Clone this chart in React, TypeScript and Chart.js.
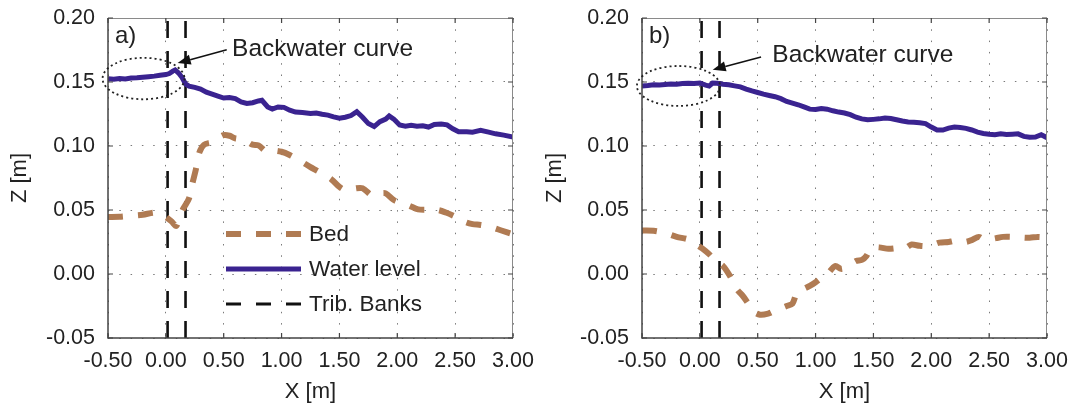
import React, { useEffect, useRef } from "react";
import { Chart, registerables } from "chart.js";

Chart.register(...registerables);

// ---------- data ----------
const X_TICK_MIN = -0.5;
const X_TICK_MAX = 3.0;
const X_TICK_STEP = 0.5;
const Z_TICK_MIN = -0.05;
const Z_TICK_MAX = 0.2;
const Z_TICK_STEP = 0.05;

const tribBanks = [0.015, 0.17];

// Panel a) water level
const xWaterA = [-0.5, -0.45, -0.4, -0.35, -0.3, -0.25, -0.2, -0.15, -0.1, -0.05, 0.0, 0.03, 0.06, 0.08, 0.11, 0.14, 0.17, 0.2, 0.25, 0.3, 0.35, 0.4, 0.45, 0.5, 0.55, 0.6, 0.65, 0.7, 0.75, 0.8, 0.83, 0.88, 0.92, 0.97, 1.02, 1.07, 1.12, 1.18, 1.25, 1.3, 1.35, 1.4, 1.45, 1.5, 1.55, 1.6, 1.65, 1.7, 1.75, 1.8, 1.85, 1.9, 1.93, 1.97, 2.02, 2.07, 2.12, 2.17, 2.22, 2.27, 2.32, 2.38, 2.43, 2.48, 2.53, 2.6, 2.65, 2.72, 2.78, 2.85, 2.92, 3.0];
const zWaterA = [0.1525, 0.1521, 0.1527, 0.1524, 0.1531, 0.1533, 0.1537, 0.1541, 0.1546, 0.1553, 0.1558, 0.1566, 0.1585, 0.1594, 0.157, 0.1535, 0.1485, 0.1468, 0.1458, 0.1445, 0.142, 0.1405, 0.139, 0.1375, 0.1378, 0.137, 0.1345, 0.1332, 0.1338, 0.1352, 0.1357, 0.1305, 0.1288, 0.1305, 0.1302, 0.128, 0.1265, 0.1262, 0.1254, 0.1258, 0.1248, 0.1241, 0.1228, 0.1218, 0.1225, 0.1238, 0.1268, 0.1225, 0.1175, 0.1152, 0.119, 0.121, 0.1235, 0.121, 0.1164, 0.1155, 0.1162, 0.1155, 0.1158, 0.1148, 0.1168, 0.1172, 0.1165, 0.1135, 0.1112, 0.1112, 0.1108, 0.1122, 0.111, 0.1095, 0.1085, 0.107];

// Panel a) bed
const xBedA = [-0.5, -0.4, -0.3, -0.2, -0.1, -0.05, 0.0, 0.05, 0.09, 0.12, 0.15, 0.2, 0.23, 0.26, 0.29, 0.33, 0.4, 0.45, 0.5, 0.55, 0.6, 0.65, 0.7, 0.75, 0.8, 0.87, 0.92, 1.0, 1.07, 1.15, 1.25, 1.3, 1.35, 1.43, 1.5, 1.55, 1.63, 1.7, 1.78, 1.85, 1.9, 1.97, 2.05, 2.1, 2.18, 2.25, 2.35, 2.42, 2.5, 2.59, 2.65, 2.72, 2.8, 2.9, 3.0];
const zBedA = [0.0445, 0.0447, 0.0455, 0.0463, 0.048, 0.047, 0.0445, 0.041, 0.0375, 0.045, 0.051, 0.059, 0.071, 0.082, 0.095, 0.101, 0.103, 0.106, 0.1085, 0.108, 0.106, 0.1055, 0.1035, 0.101, 0.1005, 0.0956, 0.0965, 0.0955, 0.093, 0.089, 0.0835, 0.081, 0.0785, 0.074, 0.068, 0.0656, 0.0668, 0.067, 0.0615, 0.063, 0.063, 0.0578, 0.055, 0.0535, 0.0505, 0.0502, 0.05, 0.048, 0.0448, 0.0405, 0.039, 0.0383, 0.037, 0.034, 0.031];

// Panel b) water level
const xWaterB = [-0.5, -0.45, -0.4, -0.35, -0.3, -0.25, -0.2, -0.15, -0.1, -0.05, 0.0, 0.05, 0.08, 0.11, 0.15, 0.2, 0.25, 0.3, 0.35, 0.4, 0.45, 0.5, 0.55, 0.6, 0.65, 0.7, 0.75, 0.8, 0.85, 0.9, 0.95, 1.0, 1.05, 1.1, 1.15, 1.2, 1.25, 1.3, 1.35, 1.4, 1.45, 1.5, 1.55, 1.6, 1.65, 1.7, 1.75, 1.8, 1.85, 1.9, 1.95, 2.0, 2.05, 2.1, 2.15, 2.2, 2.25, 2.3, 2.35, 2.4, 2.45, 2.5, 2.55, 2.6, 2.65, 2.7, 2.75, 2.8, 2.85, 2.9, 2.95, 3.0];
const zWaterB = [0.1468, 0.1472, 0.1478, 0.1476, 0.148, 0.1484, 0.1482, 0.1488, 0.149, 0.1489, 0.1492, 0.1475, 0.1468, 0.1492, 0.149, 0.1482, 0.1478, 0.147, 0.1462, 0.1445, 0.143, 0.1418, 0.1405, 0.1395, 0.1385, 0.137, 0.1348, 0.1335, 0.1322, 0.1305, 0.1288, 0.1285, 0.1292, 0.1288, 0.1275, 0.1265, 0.1258, 0.1245, 0.1225, 0.1212, 0.1205, 0.1208, 0.1212, 0.1218, 0.1215, 0.1205, 0.1195, 0.1188, 0.1186, 0.1182, 0.1175, 0.1148, 0.1125, 0.1125, 0.114, 0.1148, 0.1145, 0.1138, 0.1125, 0.1108, 0.1098, 0.1092, 0.1088, 0.1095, 0.109, 0.1092, 0.1095, 0.1075, 0.1068, 0.107, 0.1088, 0.1065];

// Panel b) bed
const xBedB = [-0.5, -0.4, -0.3, -0.2, -0.1, -0.03, 0.02, 0.08, 0.14, 0.2, 0.26, 0.32, 0.37, 0.41, 0.46, 0.52, 0.59, 0.64, 0.69, 0.75, 0.8, 0.84, 0.9, 0.95, 1.0, 1.05, 1.1, 1.17, 1.22, 1.27, 1.35, 1.4, 1.44, 1.48, 1.55, 1.63, 1.7, 1.78, 1.83, 1.9, 1.96, 2.02, 2.07, 2.15, 2.2, 2.29, 2.35, 2.41, 2.46, 2.5, 2.56, 2.62, 2.7, 2.78, 2.85, 2.92, 3.0];
const zBedB = [0.034, 0.0338, 0.032, 0.029, 0.027, 0.023, 0.02, 0.0155, 0.01, 0.0063, -0.0015, -0.012, -0.017, -0.022, -0.029, -0.0318, -0.031, -0.029, -0.0272, -0.025, -0.0232, -0.0145, -0.0115, -0.0093, -0.0065, -0.003, -0.0002, 0.0063, 0.004, 0.0055, 0.0102, 0.011, 0.0142, 0.0205, 0.0208, 0.0197, 0.0202, 0.0205, 0.023, 0.022, 0.0218, 0.023, 0.0245, 0.025, 0.0258, 0.025, 0.0265, 0.029, 0.0265, 0.027, 0.028, 0.029, 0.029, 0.0285, 0.0283, 0.029, 0.0285];

const legendLabels = ["Bed", "Water level", "Trib. Banks"];
const annotationText = "Backwater curve";

// ---------- styles ----------
const FONT = "'Liberation Sans', Arial, Helvetica, sans-serif";
const BED_COLOR = "#B07B53";
const WATER_COLOR = "#3A2390";
const TEXT_COLOR = "#222222";

type Panel = {
  label: string;
  xWater: number[];
  zWater: number[];
  xBed: number[];
  zBed: number[];
  ellipse: { cx: number; cy: number; rx: number; ry: number };
  arrowFrom: { x: number; y: number };
  arrowTo: { x: number; y: number };
  textAt: { x: number; y: number };
  showLegend: boolean;
  left: number;
  width: number;
  axisWidth: number;
  padRight: number;
};

const panels: Panel[] = [
  {
    label: "a)",
    xWater: xWaterA,
    zWater: zWaterA,
    xBed: xBedA,
    zBed: zBedA,
    ellipse: { cx: -0.193, cy: 0.1527, rx: 0.354, ry: 0.0162 },
    arrowFrom: { x: 0.526, y: 0.1752 },
    arrowTo: { x: 0.102, y: 0.1648 },
    textAt: { x: 0.572, y: 0.1759 },
    showLegend: true,
    left: 0,
    width: 535,
    axisWidth: 108,
    padRight: 22,
  },
  {
    label: "b)",
    xWater: xWaterB,
    zWater: zWaterB,
    xBed: xBedB,
    zBed: zBedB,
    ellipse: { cx: -0.185, cy: 0.1469, rx: 0.359, ry: 0.0156 },
    arrowFrom: { x: 0.529, y: 0.1695 },
    arrowTo: { x: 0.111, y: 0.1596 },
    textAt: { x: 0.626, y: 0.1707 },
    showLegend: false,
    left: 535,
    width: 536,
    axisWidth: 107,
    padRight: 24,
  },
];

const zip = (xs: number[], ys: number[]) => xs.map((x, i) => ({ x, y: ys[i] }));

function overlayPlugin(p: Panel) {
  return {
    id: "overlay" + p.label,
    afterDatasetsDraw(chart: any) {
      const { ctx, chartArea: ca } = chart;
      const xs = chart.scales.x;
      const ys = chart.scales.y;
      const px = (v: number) => xs.getPixelForValue(v);
      const py = (v: number) => ys.getPixelForValue(v);
      ctx.save();

      // frame
      ctx.setLineDash([]);
      ctx.lineWidth = 1;
      ctx.strokeStyle = "#8a8a8a";
      ctx.beginPath();
      ctx.moveTo(ca.left, ca.top + 0.5);
      ctx.lineTo(ca.right - 0.5, ca.top + 0.5);
      ctx.lineTo(ca.right - 0.5, ca.bottom);
      ctx.stroke();
      ctx.lineWidth = 1.5;
      ctx.strokeStyle = "#444";
      ctx.beginPath();
      ctx.moveTo(ca.left, ca.top);
      ctx.lineTo(ca.left, ca.bottom);
      ctx.lineTo(ca.right, ca.bottom);
      ctx.stroke();

      // inward ticks
      ctx.lineWidth = 1.2;
      ctx.strokeStyle = "#444";
      ctx.beginPath();
      for (const t of xs.ticks) {
        const x = px(t.value);
        ctx.moveTo(x, ca.bottom);
        ctx.lineTo(x, ca.bottom - 5);
        ctx.moveTo(x, ca.top);
        ctx.lineTo(x, ca.top + 5);
      }
      for (const t of ys.ticks) {
        const y = py(t.value);
        ctx.moveTo(ca.left, y);
        ctx.lineTo(ca.left + 5, y);
        ctx.moveTo(ca.right, y);
        ctx.lineTo(ca.right - 5, y);
      }
      ctx.stroke();

      // ellipse
      const e = p.ellipse;
      const ecx = px(e.cx);
      const ecy = py(e.cy);
      ctx.beginPath();
      ctx.setLineDash([2, 3]);
      ctx.lineWidth = 1.8;
      ctx.strokeStyle = "#222";
      ctx.ellipse(ecx, ecy, Math.abs(px(e.cx + e.rx) - ecx), Math.abs(py(e.cy + e.ry) - ecy), 0, 0, Math.PI * 2);
      ctx.stroke();
      ctx.setLineDash([]);

      // arrow
      const ax0 = px(p.arrowFrom.x), ay0 = py(p.arrowFrom.y);
      const ax1 = px(p.arrowTo.x), ay1 = py(p.arrowTo.y);
      const ang = Math.atan2(ay1 - ay0, ax1 - ax0);
      const hl = 13, hw = 5;
      const bx = ax1 - hl * Math.cos(ang), by = ay1 - hl * Math.sin(ang);
      ctx.lineWidth = 1.6;
      ctx.strokeStyle = "#111";
      ctx.beginPath();
      ctx.moveTo(ax0, ay0);
      ctx.lineTo(bx, by);
      ctx.stroke();
      ctx.fillStyle = "#111";
      ctx.beginPath();
      ctx.moveTo(ax1, ay1);
      ctx.lineTo(bx + hw * Math.sin(ang), by - hw * Math.cos(ang));
      ctx.lineTo(bx - hw * Math.sin(ang), by + hw * Math.cos(ang));
      ctx.closePath();
      ctx.fill();

      // annotation text
      ctx.fillStyle = TEXT_COLOR;
      ctx.font = `24.5px ${FONT}`;
      ctx.textAlign = "left";
      ctx.textBaseline = "middle";
      ctx.fillText(annotationText, px(p.textAt.x), py(p.textAt.y));

      // panel label
      ctx.font = `24px ${FONT}`;
      ctx.fillText(p.label, ca.left + 7, ca.top + 18);

      // legend
      if (p.showLegend) {
        const lx0 = ca.left + 118;
        const lx1 = ca.left + 193;
        const tx = ca.left + 201;
        const rows = [ca.top + 216, ca.top + 251, ca.top + 286];
        const styles = [
          { color: BED_COLOR, width: 6, dash: [15, 15] },
          { color: WATER_COLOR, width: 5, dash: [] as number[] },
          { color: "#111", width: 3, dash: [15, 15] },
        ];
        ctx.font = `22.5px ${FONT}`;
        rows.forEach((ry, i) => {
          const s = styles[i];
          ctx.beginPath();
          ctx.setLineDash(s.dash);
          ctx.lineWidth = s.width;
          ctx.strokeStyle = s.color;
          ctx.lineCap = "butt";
          ctx.moveTo(lx0, ry);
          ctx.lineTo(lx1, ry);
          ctx.stroke();
          ctx.setLineDash([]);
          ctx.fillStyle = TEXT_COLOR;
          ctx.fillText(legendLabels[i], tx, ry + 1);
        });
      }
      ctx.restore();
    },
  };
}

function makeConfig(p: Panel): any {
  const tribDatasets = tribBanks.map((xb) => ({
    label: "Trib. Banks",
    data: [
      { x: xb, y: Z_TICK_MIN },
      { x: xb, y: Z_TICK_MAX },
    ],
    borderColor: "#111",
    borderWidth: 2.6,
    borderDash: [17, 13],
    pointRadius: 0,
    order: 3,
  }));
  return {
    type: "line",
    data: {
      datasets: [
        {
          label: "Water level",
          data: zip(p.xWater, p.zWater),
          borderColor: WATER_COLOR,
          borderWidth: 5,
          pointRadius: 0,
          tension: 0,
          order: 1,
        },
        {
          label: "Bed",
          data: zip(p.xBed, p.zBed),
          borderColor: BED_COLOR,
          borderWidth: 6,
          borderDash: [15, 15],
          pointRadius: 0,
          tension: 0.3,
          order: 2,
        },
        ...tribDatasets,
      ],
    },
    options: {
      animation: false,
      responsive: false,
      maintainAspectRatio: false,
      layout: { padding: { left: 0, top: 18, right: p.padRight, bottom: 0 } },
      plugins: { legend: { display: false }, tooltip: { enabled: false } },
      scales: {
        x: {
          type: "linear",
          min: X_TICK_MIN,
          max: X_TICK_MAX,
          ticks: {
            stepSize: X_TICK_STEP,
            padding: 10,
            color: TEXT_COLOR,
            font: { family: FONT, size: 21.5 },
            maxRotation: 0,
            autoSkip: false,
            callback: (v: number) => Number(v).toFixed(2),
          },
          grid: { color: "#7a7a7a", lineWidth: 1, drawTicks: false },
          border: { display: false, dash: [1.5, 9.8] },
          title: {
            display: true,
            text: "X [m]",
            color: TEXT_COLOR,
            font: { family: FONT, size: 22 },
            padding: { top: 0, bottom: 0 },
          },
          afterFit: (s: any) => {
            s.height = 67;
            s.paddingLeft = 0;
            s.paddingRight = 0;
          },
        },
        y: {
          type: "linear",
          min: Z_TICK_MIN,
          max: Z_TICK_MAX,
          ticks: {
            stepSize: Z_TICK_STEP,
            padding: 13,
            color: TEXT_COLOR,
            font: { family: FONT, size: 21.5 },
            autoSkip: false,
            callback: (v: number) => Number(v).toFixed(2),
          },
          grid: { color: "#7a7a7a", lineWidth: 1, drawTicks: false },
          border: { display: false, dash: [1.5, 9.8] },
          title: {
            display: true,
            text: "Z [m]",
            color: TEXT_COLOR,
            font: { family: FONT, size: 22 },
            padding: { top: 7, bottom: 0 },
          },
          afterFit: (s: any) => {
            s.width = p.axisWidth;
            s.paddingTop = 0;
            s.paddingBottom = 0;
          },
        },
      },
    },
    plugins: [overlayPlugin(p)],
  };
}

function PanelChart({ p }: { p: Panel }) {
  const ref = useRef<HTMLCanvasElement | null>(null);
  useEffect(() => {
    if (!ref.current) return;
    const chart = new Chart(ref.current, makeConfig(p));
    return () => chart.destroy();
  }, [p]);
  return (
    <div style={{ position: "absolute", left: p.left, top: 0, width: p.width, height: 405 }}>
      <canvas ref={ref} width={p.width} height={405} style={{ width: p.width, height: 405, display: "block" }} />
    </div>
  );
}

export default function App() {
  return (
    <div style={{ position: "fixed", left: 0, top: 0, width: 1071, height: 405, background: "#fff", overflow: "hidden" }}>
      {panels.map((p) => (
        <PanelChart key={p.label} p={p} />
      ))}
    </div>
  );
}
